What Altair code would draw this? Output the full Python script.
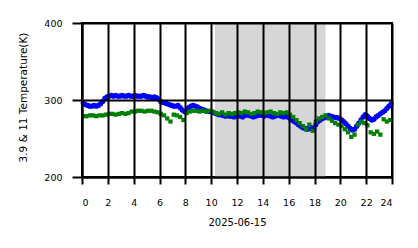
import altair as alt
import pandas as pd

# Blue series (3.9 µm temperature), 10-minute spacing starting at 0.1 h
blue_vals = [
    296, 294, 293, 292, 292, 293, 292, 293, 295,
    298, 302, 304,
    305, 306, 305, 306, 305, 305, 306, 305, 305, 306, 305, 305, 306, 305, 305, 305, 306, 305,
    304, 304, 303, 304, 303, 301,
    298, 297, 296, 295, 294, 293, 292, 292, 293, 290,
    287, 285, 286,
    290, 292, 293, 292, 291,
    289, 288, 287, 286, 285, 285, 284, 283,
    282, 281, 281, 280, 279, 280, 279, 279, 278, 279,
    280, 279, 278, 280, 281, 280, 279, 278, 279, 280, 281, 280,
    279, 281, 280, 279, 278, 279, 280, 281, 279, 278, 279, 278,
    276, 274, 272, 270, 268, 266,
    264, 263, 262, 263, 264, 262,
    268, 272, 274, 276, 277, 278,
    280, 279, 278, 277, 277, 276,
    274, 272, 269, 266, 263, 261,
    262, 266, 270, 274, 278, 281,
    279, 276, 274, 275, 278, 280,
    282, 284, 286, 289, 292, 295,
]
# Green series (11 µm temperature), 15-minute spacing starting at 0.1 h
green_vals = [
    279, 279, 280, 280, 279, 280, 280,
    281, 282, 282, 281, 282, 283, 282, 283,
    285, 285, 286, 286, 285, 286, 286, 285,
    284, 282, 280,
    276, 272,
    281, 280, 278, 274,
    283, 285, 286, 286, 285, 286, 285, 286, 285,
    283, 282, 284, 281, 283, 282, 283,
    284, 283, 285, 284, 282, 283, 285, 284, 283, 284, 285, 283, 282, 284, 283, 284,
    281, 278, 274, 270, 266,
    262, 268, 260,
    272, 276, 278, 280,
    276, 273, 270, 268, 266,
    262, 258, 252, 255,
    268, 272, 270, 267,
    258, 256, 259, 255,
    275, 272, 274,
]
blue_hours = [0.1 + i / 6 for i in range(len(blue_vals))]
green_hours = [0.1 + i / 4 for i in range(len(green_vals))]

band_start = [10.3]
band_end = [18.85]
x_ticks = [0, 2, 4, 6, 8, 10, 12, 14, 16, 18, 20, 22, 24]
y_ticks = [200, 300, 400]

blue_df = pd.DataFrame({"h": blue_hours, "t": blue_vals})
green_df = pd.DataFrame({"h": green_hours, "t": green_vals})
band_df = pd.DataFrame({"x1": band_start, "x2": band_end})

FONT = "DejaVu Sans"

xscale = alt.Scale(domain=[0, 24], nice=False, zero=False)
yscale = alt.Scale(domain=[200, 400], nice=False, zero=False)

xaxis = alt.Axis(values=x_ticks, title="2025-06-15", grid=True, gridColor="black",
                 gridWidth=2, gridOpacity=1, domainColor="black", domainWidth=2,
                 tickColor="black", tickWidth=2, tickSize=7, labelFontSize=9.5,
                 labelFont=FONT, labelColor="black", labelPadding=13, titleFont=FONT,
                 titleFontSize=10, titleFontWeight="normal", titleColor="black",
                 titlePadding=11, zindex=1, labelAngle=0)
yaxis = alt.Axis(values=y_ticks, title="3.9 & 11 Temperature(K)", grid=True,
                 gridColor="black", gridWidth=2, gridOpacity=1, domainColor="black",
                 domainWidth=2, tickColor="black", tickWidth=2, tickSize=10,
                 labelFontSize=9.5, labelFont=FONT, labelColor="black", labelPadding=10,
                 titleFont=FONT, titleFontSize=10.5, titleFontWeight="normal",
                 titleColor="black", titleX=-59, titleY=74, titleAngle=270,
                 titleAlign="center", titleBaseline="middle", zindex=1)

band = alt.Chart(band_df).mark_rect(color="#d6d6d6", opacity=1).encode(
    x=alt.X("x1:Q", scale=xscale, axis=xaxis),
    x2="x2:Q",
    y=alt.value(0),
    y2=alt.value(154),
)

blue = alt.Chart(blue_df).mark_point(filled=True, shape="circle", size=28,
                                     color="blue", opacity=1).encode(
    x=alt.X("h:Q", scale=xscale, axis=xaxis),
    y=alt.Y("t:Q", scale=yscale, axis=yaxis),
)

green = alt.Chart(green_df).mark_point(filled=True, shape="square", size=18,
                                       color="green", opacity=1).encode(
    x=alt.X("h:Q", scale=xscale, axis=xaxis),
    y=alt.Y("t:Q", scale=yscale, axis=yaxis),
)

chart = alt.layer(band, blue, green).properties(
    width=310, height=154,
    autosize=alt.AutoSizeParams(type="none"),
    padding={"left": 82, "top": 23, "right": 26, "bottom": 71},
    background="white",
).configure_view(stroke="black", strokeWidth=2)

chart.save("out.html", embed_options={"renderer": "svg", "actions": False})
